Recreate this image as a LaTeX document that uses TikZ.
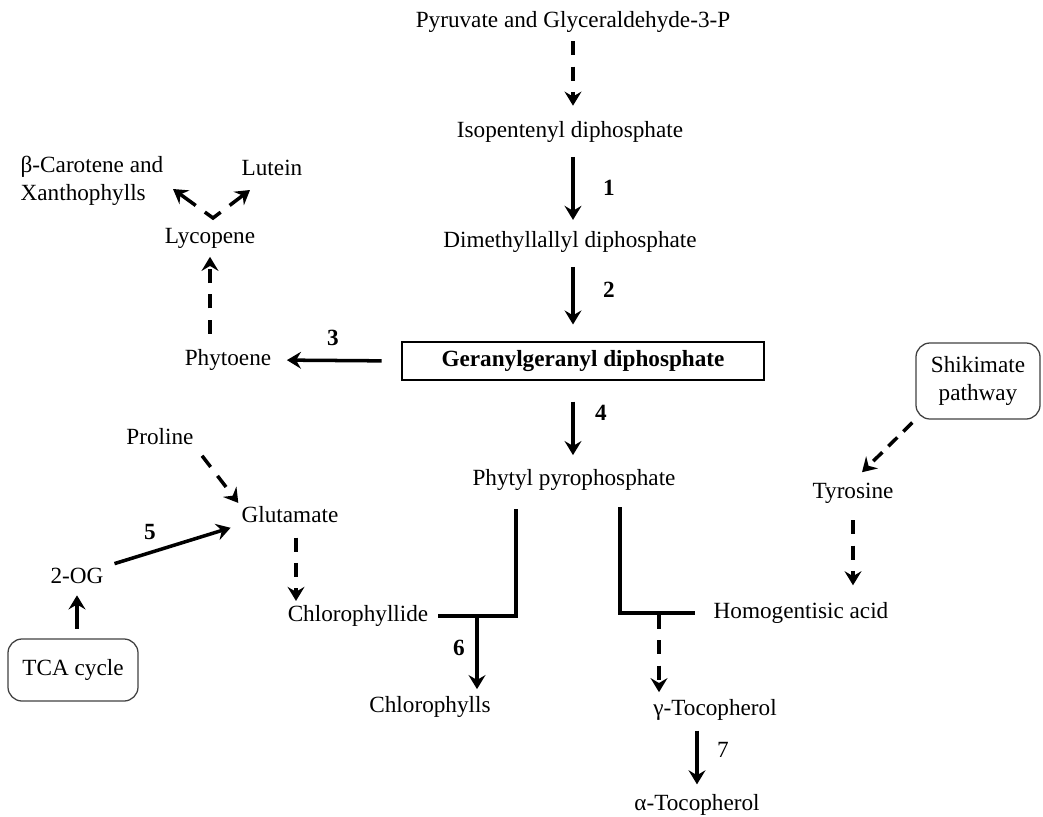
\documentclass[tikz,border=0pt]{standalone}
\usepackage{fontspec}
\setmainfont{Liberation Serif}
\usetikzlibrary{arrows.meta}

\begin{document}
\begin{tikzpicture}[x=0.025cm, y=-0.025cm,
        >={Stealth[length=10pt, width=12pt, inset=3.5pt]},
        every node/.style={font=\fontsize{16.5}{20}\selectfont, inner sep=1pt},
        rxn/.style={->, line width=2.5pt},
        dsh/.style={->, line width=2.5pt, dash pattern=on 10pt off 8pt},
        num/.style={font=\fontsize{16.5}{20}\selectfont\bfseries},
        pbox/.style={draw=black!75, line width=0.9pt, rounded corners=10pt, align=center}]
    \useasboundingbox (0, 0) rectangle (1043, 816);
    % main chain
    \node (pyr) at (573, 22) {Pyruvate and Glyceraldehyde-3-P};
    \node (ipp) at (570, 132) {Isopentenyl diphosphate};
    \node (dma) at (570, 242) {Dimethyllallyl diphosphate};
    \node [draw, line width=0.9pt, minimum width=9.05cm, minimum height=0.95cm, font=\fontsize{16.5}{20}\selectfont\bfseries] (ggpp) at (583, 361) {Geranylgeranyl diphosphate};
    \node (phyt) at (574, 480) {Phytyl pyrophosphate};
    \draw [dsh, shorten <=5pt, shorten >=10pt] (pyr.south -| 573, 0) -- (ipp.north -| 573, 0);
    \draw [rxn, shorten <=9pt, shorten >=7pt] (ipp.south -| 573, 0) -- (dma.north -| 573, 0);
    \draw [rxn, shorten <=9pt, shorten >=12pt] (dma.south -| 573, 0) -- (ggpp.north -| 573, 0);
    \draw [rxn, shorten <=15pt, shorten >=9pt] (ggpp.south -| 573, 0) -- (phyt.north -| 573, 0);
    \node [num] (n1) at (609, 188) {1};
    \node [num] (n2) at (609, 290) {2};
    \node [num] (n4) at (601, 413) {4};
    % carotenoids
    \node (phy) at (228, 360) {Phytoene};
    \node (lyc) at (210, 238) {Lycopene};
    \node [align=left, anchor=west] (car) at (19, 181) {β-Carotene and\\Xanthophylls};
    \node (lut) at (272, 168) {Lutein};
    \draw [rxn, shorten <=14pt, shorten >=10pt] (ggpp.west) -- (phy.east);
    \node [num] (n3) at (333, 338) {3};
    \draw [dsh, shorten <=10pt, shorten >=5pt] (phy.north -| lyc.south) -- (lyc.south);
    \coordinate (vtx) at (213, 218);
    \coordinate (tcar) at (173, 189);
    \coordinate (tlut) at (250, 190);
    \draw [dsh, <->, dash pattern=on 14pt off 8pt] (tcar) -- (vtx) -- (tlut);
    % chlorophyll branch
    \node (pro) at (160, 437) {Proline};
    \node (glu) at (290, 515) {Glutamate};
    \node (og) at (77, 576) {2-OG};
    \node [pbox, minimum width=3.25cm, minimum height=1.55cm] (tca) at (73, 670) {TCA cycle};
    \node (chd) at (358, 616) {Chlorophyllide};
    \node (chl) at (430, 707) {Chlorophylls};
    \draw [dsh, shorten <=8pt, shorten >=2pt] (pro.south east) -- (glu.north west);
    \draw [rxn, shorten <=7pt, shorten >=7pt] (og.north east) -- (glu.south west);
    \node [num] (n5) at (150, 532) {5};
    \draw [rxn, shorten <=7pt, shorten >=7pt] (tca.north -| og.south) -- (og.south);
    \draw [dsh, shorten <=9pt, shorten >=2pt] (glu.south -| 296, 0) -- (chd.north -| 296, 0);
    \coordinate (pl) at (516, 509);
    \coordinate (jl) at (477, 617);
    \draw [line width=2.5pt, shorten >=6pt] (pl) |- (chd.east);
    \draw [rxn, shorten >=4pt] (jl) -- (jl |- chl.north);
    \node [num] (n6) at (459, 648) {6};
    % tocopherol branch
    \node [pbox, minimum width=3.1cm, minimum height=1.9cm] (shk) at (978, 381) {Shikimate\\pathway};
    \node (tyr) at (853, 493) {Tyrosine};
    \node (hga) at (801, 613) {Homogentisic acid};
    \node (gto) at (715, 710) {γ-Tocopherol};
    \node (ato) at (697, 805) {α-Tocopherol};
    \draw [dsh, dash pattern=on 9pt off 6pt, shorten <=3pt, shorten >=9pt] (shk.south west) -- (tyr.north);
    \draw [dsh, shorten <=11pt, shorten >=11pt] (tyr.south) -- (tyr.south |- hga.north);
    \coordinate (pr) at (620, 507);
    \coordinate (jr) at (659, 615);
    \draw [line width=2.5pt, shorten >=12pt] (pr) |- (hga.west);
    \draw [dsh, shorten >=4pt] (jr) -- (jr |- gto.north);
    \draw [rxn, shorten <=6pt, shorten >=6pt] (ato.north |- gto.south) -- (ato.north);
    \node (n7) at (723, 750) {7};
\end{tikzpicture}
\end{document}
